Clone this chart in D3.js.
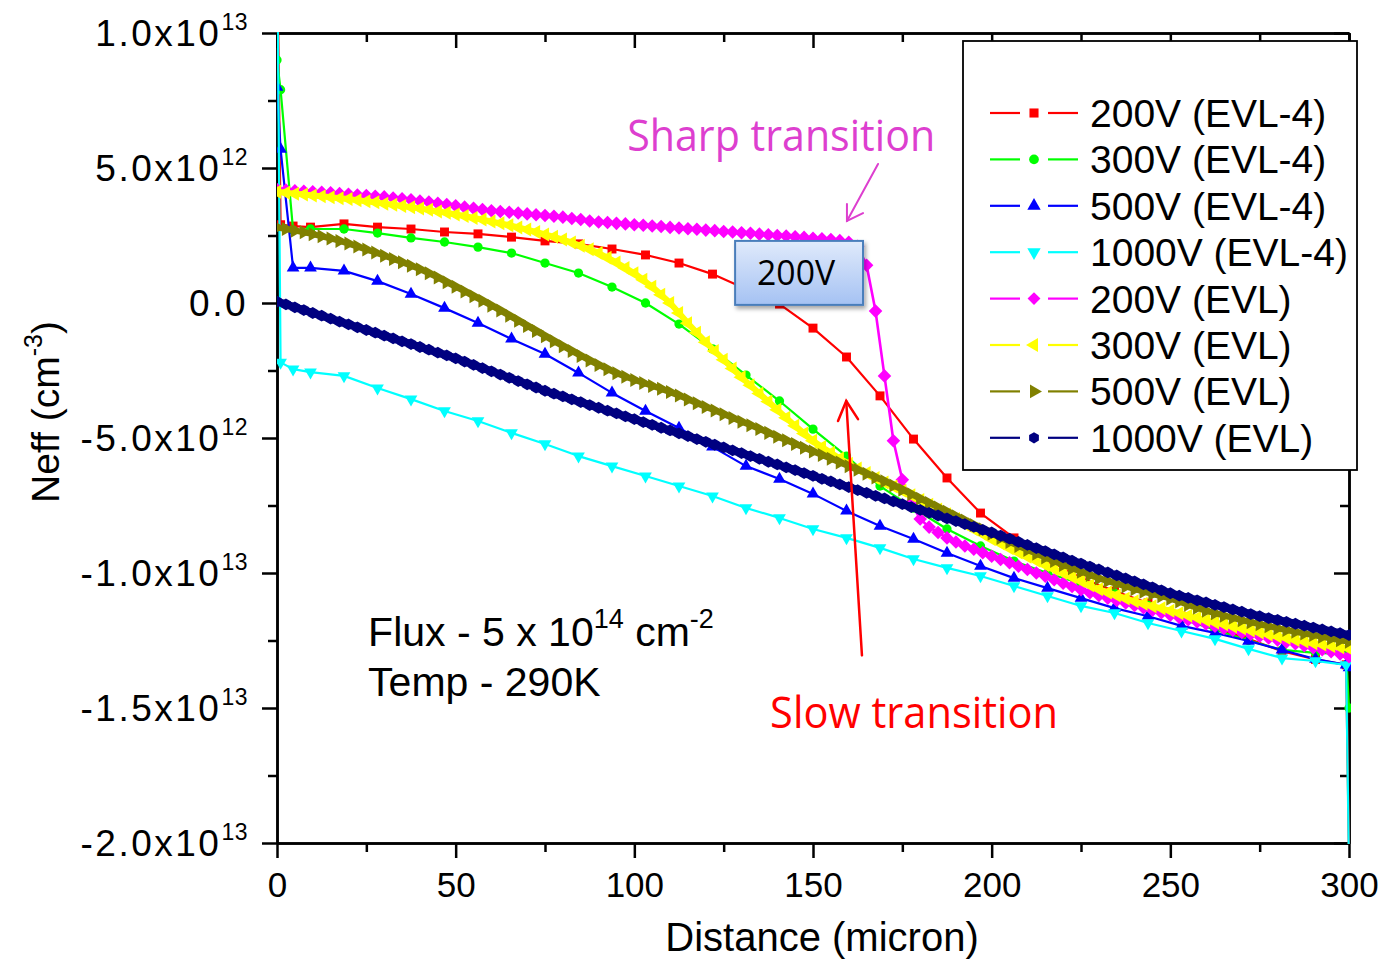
<!DOCTYPE html>
<html><head><meta charset="utf-8">
<script src="https://cdn.jsdelivr.net/npm/d3@7"></script>
<style>body{margin:0;background:#fff}svg{display:block}</style>
</head><body>
<svg id="chart" width="1378" height="961"></svg>
<script>
// ---------------- DATA (Neff in units of 1e12 cm^-3, distance in micron) ----------------
const distEVL4 = [0, 1.0, 4.5, 9.375, 18.75, 28.125, 37.5, 46.875, 56.25, 65.625, 75, 84.375, 93.75, 103.125, 112.5, 121.875, 131.25, 140.625, 150, 159.375, 168.75, 178.125, 187.5, 196.875, 206.25, 215.625, 225, 234.375, 243.75, 253.125, 262.5, 271.875, 281.25, 290.625, 299.2, 300];
const neff200V_EVL4 = [14, 2.9, 2.85, 2.81, 2.93, 2.81, 2.74, 2.63, 2.56, 2.44, 2.3, 2.19, 2.0, 1.78, 1.48, 1.07, 0.52, -0.04, -0.93, -2.0, -3.44, -5.04, -6.48, -7.78, -8.7, -9.5, -10.19, -10.67, -11.11, -11.6, -12.04, -12.44, -12.9, -13.2, -13.4, -20.5];
const neff300V_EVL4 = [9, 7.9, 2.7, 2.74, 2.74, 2.59, 2.41, 2.26, 2.07, 1.85, 1.48, 1.11, 0.59, 0.0, -0.78, -1.7, -2.67, -3.63, -4.67, -5.67, -6.78, -7.6, -8.37, -9.0, -9.56, -10.0, -10.4, -10.74, -11.2, -11.7, -12.1, -12.5, -12.85, -12.96, -13.0, -15.0];
const neff500V_EVL4 = [8, 5.7, 1.3, 1.3, 1.19, 0.81, 0.33, -0.19, -0.74, -1.33, -1.89, -2.59, -3.33, -4.0, -4.63, -5.33, -6.04, -6.52, -7.07, -7.7, -8.26, -8.74, -9.26, -9.74, -10.19, -10.56, -10.93, -11.3, -11.6, -11.96, -12.22, -12.52, -12.85, -13.19, -13.4, -13.5];
const neff1000V_EVL4 = [14, -2.2, -2.45, -2.56, -2.7, -3.15, -3.56, -4.0, -4.37, -4.81, -5.22, -5.67, -6.04, -6.41, -6.78, -7.15, -7.59, -7.96, -8.37, -8.7, -9.07, -9.48, -9.81, -10.11, -10.48, -10.85, -11.22, -11.48, -11.85, -12.15, -12.44, -12.81, -13.15, -13.26, -13.4, -21];

const distEVL = [0,2.5,5,7.5,10,12.5,15,17.5,20,22.5,25,27.5,30,32.5,35,37.5,40,42.5,45,47.5,50,52.5,55,57.5,60,62.5,65,67.5,70,72.5,75,77.5,80,82.5,85,87.5,90,92.5,95,97.5,100,102.5,105,107.5,110,112.5,115,117.5,120,122.5,125,127.5,130,132.5,135,137.5,140,142.5,145,147.5,150,152.5,155,157.5,160,162.5,165,167.5,170,172.5,175,177.5,180,182.5,185,187.5,190,192.5,195,197.5,200,202.5,205,207.5,210,212.5,215,217.5,220,222.5,225,227.5,230,232.5,235,237.5,240,242.5,245,247.5,250,252.5,255,257.5,260,262.5,265,267.5,270,272.5,275,277.5,280,282.5,285,287.5,290,292.5,295,297.5,300];
const neff200V_EVL = [4.2,4.18,4.16,4.14,4.12,4.1,4.08,4.05,4.03,4.0,
 3.98,3.95,3.93,3.89,3.86,3.82,3.78,3.74,3.69,3.65,
 3.6,3.55,3.51,3.46,3.42,3.39,3.36,3.33,3.3,3.27,
 3.24,3.21,3.18,3.13,3.09,3.04,3.0,2.98,2.95,2.93,
 2.9,2.88,2.85,2.83,2.8,2.78,2.75,2.73,2.7,2.68,
 2.65,2.63,2.6,2.58,2.55,2.53,2.5,2.48,2.45,2.43,
 2.4,2.38,2.35,2.31,2.25,2.1,1.4,-0.3,-2.7,-5.1,
 -6.55,-7.4,-8.0,-8.3,-8.5,-8.7,-8.85,-9.0,-9.12,-9.25,
 -9.38,-9.5,-9.62,-9.75,-9.87,-10.0,-10.12,-10.25,-10.38,-10.5,
 -10.62,-10.73,-10.83,-10.93,-11.02,-11.11,-11.2,-11.29,-11.38,-11.47,
 -11.56,-11.65,-11.73,-11.81,-11.89,-11.97,-12.05,-12.12,-12.2,-12.27,
 -12.34,-12.41,-12.48,-12.55,-12.62,-12.69,-12.77,-12.84,-12.92,-13.0,
 -13.1];
const neff300V_EVL = [4.12,4.08,4.05,4.02,3.98,3.95,3.92,3.88,3.85,3.81,
 3.77,3.73,3.68,3.64,3.59,3.55,3.5,3.45,3.39,3.34,
 3.28,3.22,3.15,3.09,3.02,2.95,2.88,2.8,2.72,2.63,
 2.54,2.45,2.35,2.24,2.12,1.99,1.85,1.68,1.5,1.3,
 1.1,0.86,0.6,0.31,0.0,-0.37,-0.75,-1.1,-1.45,-1.78,
 -2.1,-2.43,-2.75,-3.05,-3.35,-3.65,-3.95,-4.25,-4.55,-4.83,
 -5.1,-5.33,-5.55,-5.76,-5.95,-6.13,-6.3,-6.48,-6.65,-6.8,
 -6.95,-7.12,-7.3,-7.47,-7.65,-7.82,-8.0,-8.19,-8.38,-8.56,
 -8.75,-8.91,-9.08,-9.24,-9.4,-9.55,-9.7,-9.85,-10.0,-10.15,
 -10.3,-10.45,-10.6,-10.72,-10.83,-10.94,-11.05,-11.14,-11.23,-11.31,
 -11.4,-11.49,-11.58,-11.66,-11.75,-11.83,-11.9,-11.98,-12.05,-12.13,
 -12.2,-12.28,-12.35,-12.41,-12.48,-12.54,-12.6,-12.65,-12.7,-12.75,
 -12.8];
const neff500V_EVL = [2.8,2.74,2.68,2.62,2.55,2.47,2.39,2.3,2.2,2.09,
 1.98,1.87,1.75,1.63,1.51,1.38,1.25,1.1,0.94,0.77,
 0.6,0.43,0.25,0.08,-0.1,-0.28,-0.47,-0.66,-0.85,-1.04,
 -1.23,-1.42,-1.6,-1.78,-1.96,-2.13,-2.3,-2.45,-2.6,-2.73,
 -2.85,-2.96,-3.07,-3.18,-3.3,-3.43,-3.57,-3.71,-3.85,-3.98,
 -4.12,-4.26,-4.4,-4.53,-4.67,-4.81,-4.95,-5.08,-5.22,-5.36,
 -5.5,-5.63,-5.77,-5.91,-6.05,-6.18,-6.32,-6.46,-6.6,-6.76,
 -6.92,-7.08,-7.25,-7.41,-7.57,-7.73,-7.9,-8.06,-8.22,-8.38,
 -8.55,-8.7,-8.85,-9.0,-9.15,-9.29,-9.43,-9.56,-9.7,-9.82,
 -9.95,-10.07,-10.2,-10.3,-10.4,-10.5,-10.6,-10.69,-10.78,-10.86,
 -10.95,-11.06,-11.18,-11.29,-11.4,-11.49,-11.58,-11.66,-11.75,-11.82,
 -11.9,-11.97,-12.05,-12.11,-12.18,-12.24,-12.3,-12.36,-12.43,-12.49,
 -12.55];
const neff1000V_EVL = [0.05,-0.05,-0.16,-0.26,-0.37,-0.47,-0.58,-0.69,-0.79,-0.9,
 -1.0,-1.1,-1.21,-1.31,-1.42,-1.52,-1.63,-1.73,-1.84,-1.94,
 -2.05,-2.17,-2.29,-2.41,-2.53,-2.65,-2.77,-2.89,-3.01,-3.13,
 -3.25,-3.36,-3.46,-3.57,-3.67,-3.78,-3.88,-3.99,-4.09,-4.2,
 -4.3,-4.41,-4.51,-4.62,-4.72,-4.83,-4.93,-5.04,-5.14,-5.25,
 -5.35,-5.46,-5.56,-5.67,-5.77,-5.88,-5.98,-6.09,-6.19,-6.3,
 -6.4,-6.51,-6.61,-6.72,-6.82,-6.93,-7.03,-7.14,-7.24,-7.35,
 -7.45,-7.56,-7.66,-7.77,-7.87,-7.98,-8.08,-8.19,-8.29,-8.4,
 -8.5,-8.62,-8.73,-8.85,-8.96,-9.08,-9.19,-9.31,-9.42,-9.54,
 -9.65,-9.76,-9.87,-9.98,-10.09,-10.2,-10.31,-10.42,-10.53,-10.64,
 -10.75,-10.84,-10.92,-11.01,-11.09,-11.18,-11.26,-11.35,-11.43,-11.52,
 -11.6,-11.67,-11.74,-11.81,-11.88,-11.95,-12.02,-12.09,-12.16,-12.23,
 -12.3];

const seriesNames = ["200V (EVL-4)","300V (EVL-4)","500V (EVL-4)","1000V (EVL-4)","200V (EVL)","300V (EVL)","500V (EVL)","1000V (EVL)"];
const seriesColors = ["#ff0000","#00ff00","#0000ff","#00ffff","#ff00ff","#ffff00","#808000","#000080"];
const xTickValues = [0,50,100,150,200,250,300];
const xMinorTicks = [25,75,125,175,225,275];
const yTickValues = [10,5,0,-5,-10,-15,-20];
const yMinorTicks = [7.5,2.5,-2.5,-7.5,-12.5,-17.5];
const yTickMantissa = ["1.0x10","5.0x10","0.0","-5.0x10","-1.0x10","-1.5x10","-2.0x10"];
const yTickExponent = ["13","12","","12","13","13","13"];

// ---------------- SETUP ----------------
const svg = d3.select("#chart");
const L = 277, R = 1349, T = 33, B = 843;
const x = d3.scaleLinear().domain([0, 300]).range([L, R]);
const y = d3.scaleLinear().domain([-20, 10]).range([B, T]);
const FONT = "'Liberation Sans', Arial, sans-serif";
const FONT2 = "'Open Sans', 'Lato', sans-serif";

const hexagon = { draw(ctx, size) { const r = Math.sqrt(size / (1.5 * Math.sqrt(3)));
  for (let i = 0; i < 6; i++) { const a = Math.PI / 3 * i + Math.PI / 6; const px = r * Math.cos(a), py = r * Math.sin(a);
    if (i) ctx.lineTo(px, py); else ctx.moveTo(px, py); } ctx.closePath(); } };

// marker type, area, rotation and connecting-line width per series
const markerDefs = [
  {type: d3.symbolSquare, size: 80, rot: 0, lw: 2.2},
  {type: d3.symbolCircle, size: 68, rot: 0, lw: 2.2},
  {type: d3.symbolTriangle, size: 70, rot: 0, lw: 2.2},
  {type: d3.symbolTriangle, size: 70, rot: 180, lw: 2.2},
  {type: d3.symbolSquare, size: 92, rot: 45, lw: 2.6},
  {type: d3.symbolTriangle, size: 85, rot: -90, lw: 6},
  {type: d3.symbolTriangle, size: 85, rot: 90, lw: 6},
  {type: hexagon, size: 90, rot: 0, lw: 8}
];

const seriesX = [distEVL4, distEVL4, distEVL4, distEVL4, distEVL, distEVL, distEVL, distEVL];
const seriesY = [neff200V_EVL4, neff300V_EVL4, neff500V_EVL4, neff1000V_EVL4, neff200V_EVL, neff300V_EVL, neff500V_EVL, neff1000V_EVL];
const series = seriesNames.map((name, i) => ({
  name, color: seriesColors[i], marker: markerDefs[i],
  points: seriesX[i].map((d, j) => ({x: d, y: seriesY[i][j]}))
}));

// ---------------- AXES ----------------
const axG = svg.append("g");
function styleAxis(g) {
  g.selectAll("path.domain").attr("stroke", "#000").attr("stroke-width", 2.5);
  g.selectAll(".tick line").attr("stroke", "#000").attr("stroke-width", 2.5);
}
axG.append("g").attr("transform", `translate(0,${B})`)
  .call(d3.axisBottom(x).tickValues(xTickValues).tickSize(15).tickSizeOuter(0).tickPadding(14).tickFormat(d => d))
  .call(styleAxis)
  .call(g => g.selectAll("text").attr("font-family", FONT).attr("font-size", 35).attr("fill", "#000"));
axG.append("g").attr("transform", `translate(0,${B})`)
  .call(d3.axisBottom(x).tickValues(xMinorTicks).tickSize(9).tickSizeOuter(0).tickFormat(""))
  .call(styleAxis);
axG.append("g").attr("transform", `translate(0,${T})`)
  .call(d3.axisBottom(x).tickValues(xTickValues).tickSize(15).tickSizeOuter(0).tickFormat(""))
  .call(styleAxis);
axG.append("g").attr("transform", `translate(0,${T})`)
  .call(d3.axisBottom(x).tickValues(xMinorTicks).tickSize(9).tickSizeOuter(0).tickFormat(""))
  .call(styleAxis);
axG.append("g").attr("transform", `translate(${L},0)`)
  .call(d3.axisLeft(y).tickValues(yTickValues).tickSize(15).tickSizeOuter(0).tickFormat(""))
  .call(styleAxis);
axG.append("g").attr("transform", `translate(${L},0)`)
  .call(d3.axisLeft(y).tickValues(yMinorTicks).tickSize(9).tickSizeOuter(0).tickFormat(""))
  .call(styleAxis);
axG.append("g").attr("transform", `translate(${R},0)`)
  .call(d3.axisRight(y).tickValues(yTickValues).tickSize(-15).tickSizeOuter(0).tickFormat(""))
  .call(styleAxis);
axG.append("g").attr("transform", `translate(${R},0)`)
  .call(d3.axisRight(y).tickValues(yMinorTicks).tickSize(-9).tickSizeOuter(0).tickFormat(""))
  .call(styleAxis);

// y tick labels with superscript exponents
const yLab = axG.append("g");
yTickValues.forEach((v, i) => {
  const t = yLab.append("text").attr("x", 248).attr("y", y(v) + 13)
    .attr("text-anchor", "end").attr("font-family", FONT).attr("font-size", 37)
    .attr("letter-spacing", 2.5).attr("fill", "#000").text(yTickMantissa[i]);
  if (yTickExponent[i]) t.append("tspan").attr("dy", -16).attr("font-size", 23).attr("letter-spacing", 0.5).text(yTickExponent[i]);
});

// axis titles
svg.append("text").attr("x", 822).attr("y", 951).attr("text-anchor", "middle")
  .attr("font-family", FONT).attr("font-size", 40).attr("fill", "#000").text("Distance (micron)");
const yt = svg.append("text").attr("transform", `translate(59,412) rotate(-90)`)
  .attr("text-anchor", "middle").attr("font-family", FONT).attr("font-size", 39).attr("fill", "#000");
yt.append("tspan").text("Neff (cm");
yt.append("tspan").attr("dy", -17).attr("font-size", 25).text("-3");
yt.append("tspan").attr("dy", 17).text(")");

// ---------------- SERIES ----------------
svg.append("defs").append("clipPath").attr("id", "plotclip")
  .append("rect").attr("x", L).attr("y", T - 1).attr("width", R - L + 2).attr("height", B - T + 2);
const plot = svg.append("g").attr("clip-path", "url(#plotclip)");
const line = d3.line().x(d => x(d.x)).y(d => y(d.y));
series.forEach(s => {
  const g = plot.append("g");
  g.append("path").attr("d", line(s.points)).attr("fill", "none").attr("stroke", s.color)
    .attr("stroke-width", s.marker.lw).attr("stroke-linejoin", "round");
  const sym = d3.symbol().type(s.marker.type).size(s.marker.size)();
  g.selectAll("path.m").data(s.points).join("path").attr("class", "m")
    .attr("d", sym).attr("fill", s.color)
    .attr("transform", d => `translate(${x(d.x)},${y(d.y)}) rotate(${s.marker.rot})`);
});

// ---------------- ANNOTATIONS (data units) ----------------
const magenta = "#dd3fcf";
svg.append("text").attr("x", x(98)).attr("y", y(5.63)).attr("font-family", FONT2).attr("font-size", 44)
  .attr("textLength", 308).attr("lengthAdjust", "spacingAndGlyphs").attr("fill", magenta).text("Sharp transition");
const arrow = (pts, color, w) => svg.append("path").attr("d", d3.line().x(d => x(d[0])).y(d => y(d[1]))(pts))
  .attr("fill", "none").attr("stroke", color).attr("stroke-width", w).attr("stroke-linecap", "round");
arrow([[168.2, 5.15], [159.5, 3.04]], magenta, 2);
arrow([[159.5, 3.67], [159.5, 3.04], [164.0, 3.33]], magenta, 2);

svg.append("text").attr("x", x(138)).attr("y", y(-15.75)).attr("font-family", FONT2).attr("font-size", 43)
  .attr("textLength", 288).attr("lengthAdjust", "spacingAndGlyphs").attr("fill", "#ff0000").text("Slow transition");
arrow([[163.7, -13.05], [159.3, -3.63]], "#ff0000", 2.5);
arrow([[157.0, -4.37], [159.3, -3.63], [162.6, -4.3]], "#ff0000", 2.5);

// 200V callout box
const defs = svg.select("defs");
const grad = defs.append("linearGradient").attr("id", "boxgrad").attr("x1", 0).attr("y1", 0).attr("x2", 0).attr("y2", 1);
grad.append("stop").attr("offset", "0%").attr("stop-color", "#e0eafb");
grad.append("stop").attr("offset", "100%").attr("stop-color", "#a5c2f3");
const flt = defs.append("filter").attr("id", "shadow").attr("x", "-20%").attr("y", "-20%").attr("width", "150%").attr("height", "150%");
flt.append("feDropShadow").attr("dx", 2).attr("dy", 3).attr("stdDeviation", 2).attr("flood-color", "#000").attr("flood-opacity", 0.35);
const bx0 = x(128.2), bx1 = x(164), by0 = y(2.3), by1 = y(-0.07);
svg.append("rect").attr("x", bx0).attr("y", by0).attr("width", bx1 - bx0).attr("height", by1 - by0)
  .attr("fill", "url(#boxgrad)").attr("stroke", "#4a7ebb").attr("stroke-width", 2).attr("filter", "url(#shadow)");
svg.append("text").attr("x", (bx0 + bx1) / 2 - 3).attr("y", (by0 + by1) / 2 + 12).attr("text-anchor", "middle")
  .attr("font-family", FONT2).attr("font-size", 35).attr("textLength", 78).attr("lengthAdjust", "spacingAndGlyphs")
  .attr("fill", "#000").text("200V");

// Flux / Temp text
const fl = svg.append("text").attr("x", x(25.5)).attr("y", y(-12.7)).attr("font-family", FONT).attr("font-size", 41).attr("fill", "#000");
fl.append("tspan").text("Flux - 5 x 10");
fl.append("tspan").attr("dy", -18).attr("font-size", 27).text("14");
fl.append("tspan").attr("dy", 18).text(" cm");
fl.append("tspan").attr("dy", -18).attr("font-size", 27).text("-2");
svg.append("text").attr("x", x(25.5)).attr("y", y(-14.56)).attr("font-family", FONT).attr("font-size", 41)
  .attr("fill", "#000").text("Temp - 290K");

// ---------------- LEGEND ----------------
const lg = svg.append("g");
lg.append("rect").attr("x", 963).attr("y", 41).attr("width", 394).attr("height", 429)
  .attr("fill", "#fff").attr("stroke", "#000").attr("stroke-width", 1.8);
series.forEach((s, i) => {
  const cy = 113 + i * 46.4;
  lg.append("line").attr("x1", 990).attr("x2", 1020).attr("y1", cy).attr("y2", cy).attr("stroke", s.color).attr("stroke-width", 2.2);
  lg.append("line").attr("x1", 1048).attr("x2", 1078).attr("y1", cy).attr("y2", cy).attr("stroke", s.color).attr("stroke-width", 2.2);
  lg.append("path").attr("d", d3.symbol().type(s.marker.type).size(Math.min(s.marker.size, 75) * 1.1)())
    .attr("fill", s.color).attr("transform", `translate(1034,${cy}) rotate(${s.marker.rot})`);
  lg.append("text").attr("x", 1090).attr("y", cy + 14).attr("font-family", FONT).attr("font-size", 39)
    .attr("fill", "#000").text(s.name);
});
</script>
</body></html>
